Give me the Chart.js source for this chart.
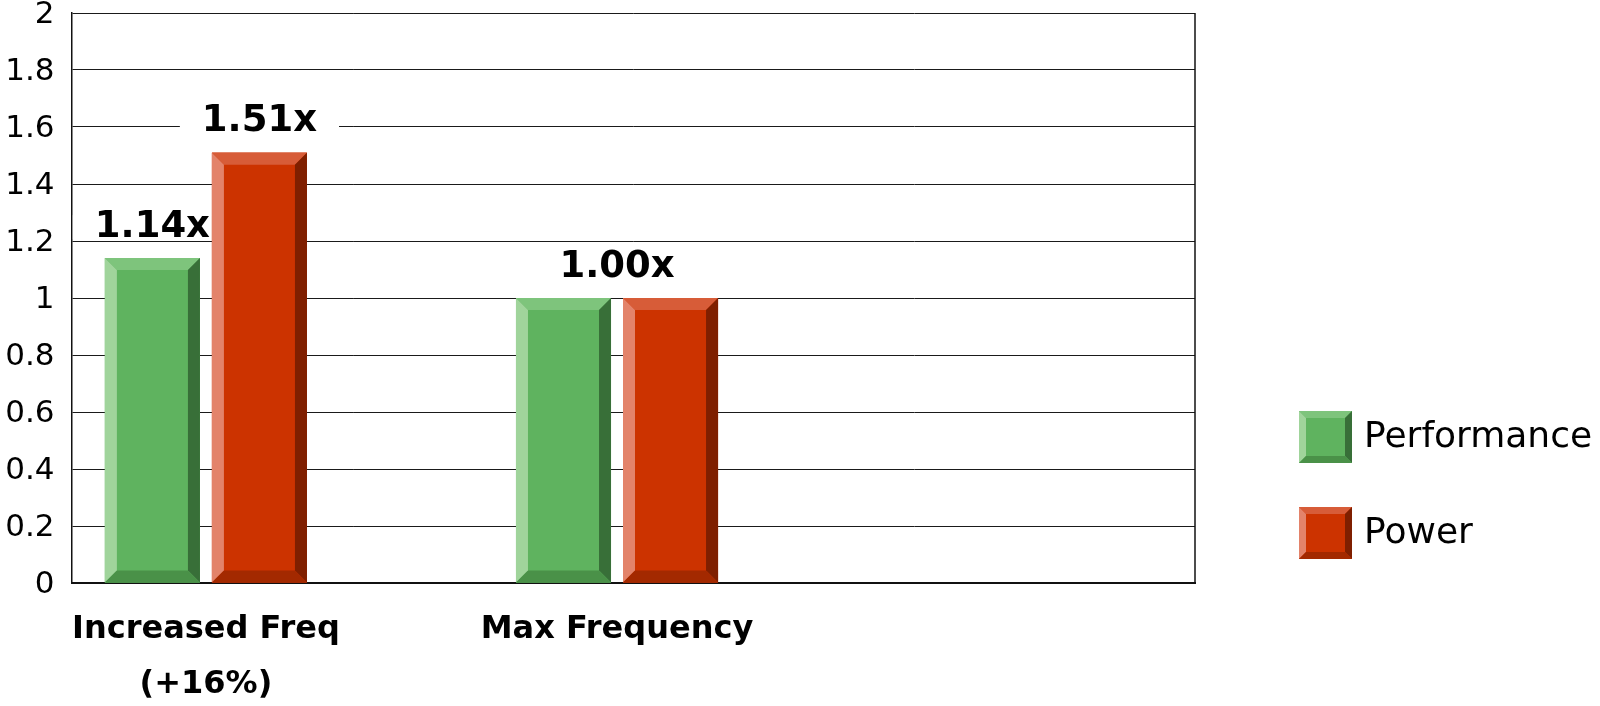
<!DOCTYPE html>
<html>
<head>
<meta charset="utf-8">
<script src="https://cdn.jsdelivr.net/npm/chart.js@4.4.1/dist/chart.umd.min.js"></script>
<style>
  html, body { margin: 0; padding: 0; background: #ffffff; }
  #wrap { width: 1600px; height: 706px; position: relative; }
</style>
</head>
<body>
<div id="wrap"><canvas id="chart"></canvas></div>
<script>
// ---- data ----
const categories = ['Increased Freq (+16%)', 'Max Frequency'];
const categoryTickLabels = [['Increased Freq', '(+16%)'], ['Max Frequency']];
const seriesNames = ['Performance', 'Power'];
const performanceValues = [1.14, 1.00];
const powerValues = [1.51, 1.00];
const yTickLabels = ['0', '0.2', '0.4', '0.6', '0.8', '1', '1.2', '1.4', '1.6', '1.8', '2'];

// ---- styling ----
const FONT = '"DejaVu Sans", Verdana, sans-serif';
const shades = {
  Performance: { face: '#5FB35F', top: '#7EC47C', left: '#A0D49B', right: '#386F38', bottom: '#4A9148' },
  Power:       { face: '#CC3300', top: '#D75C38', left: '#E3836A', right: '#7F1F00', bottom: '#A32900' }
};

function drawBevel(ctx, l, t, r, b, s, c) {
  const poly = (pts, color) => {
    ctx.beginPath();
    ctx.moveTo(pts[0][0], pts[0][1]);
    for (let i = 1; i < pts.length; i++) ctx.lineTo(pts[i][0], pts[i][1]);
    ctx.closePath();
    ctx.fillStyle = color;
    ctx.fill();
  };
  ctx.fillStyle = c.face;
  ctx.fillRect(l, t, r - l, b - t);
  poly([[l, t], [r, t], [r - s, t + s], [l + s, t + s]], c.top);
  poly([[l, t], [l + s, t + s], [l + s, b - s], [l, b]], c.left);
  poly([[r, t], [r, b], [r - s, b - s], [r - s, t + s]], c.right);
  poly([[l, b], [l + s, b - s], [r - s, b - s], [r, b]], c.bottom);
}

const barDecor = {
  id: 'barDecor',
  beforeDatasetsDraw(chart) {
    const { ctx, chartArea } = chart;
    ctx.save();
    // right edge of the plot frame
    ctx.strokeStyle = '#111';
    ctx.lineWidth = 1.5;
    ctx.beginPath();
    ctx.moveTo(chartArea.right, chartArea.top);
    ctx.lineTo(chartArea.right, chartArea.bottom);
    ctx.stroke();

    // value labels above each group
    ctx.font = 'bold 37px ' + FONT;
    ctx.textAlign = 'center';
    ctx.textBaseline = 'middle';
    const metas = chart.data.datasets.map((d, i) => chart.getDatasetMeta(i));
    const drawLabel = (value, cx, topY) => {
      const text = value.toFixed(2) + 'x';
      const w = ctx.measureText(text).width;
      const cy = topY - 31;
      ctx.fillStyle = '#ffffff';
      ctx.fillRect(cx - w / 2 - 22, cy - 12, w + 44, 24);
      ctx.fillStyle = '#000000';
      ctx.fillText(text, cx, cy);
    };
    categories.forEach((cat, i) => {
      const vals = chart.data.datasets.map(d => d.data[i].y);
      const bars = metas.map(m => m.data[i]);
      if (vals.every(v => v === vals[0])) {
        const cx = bars.reduce((s, b) => s + b.x, 0) / bars.length;
        drawLabel(vals[0], cx, Math.min(...bars.map(b => b.y)));
      } else {
        vals.forEach((v, k) => drawLabel(v, bars[k].x, bars[k].y));
      }
    });
    ctx.restore();
  },
  afterDatasetsDraw(chart) {
    const { ctx } = chart;
    ctx.save();
    chart.data.datasets.forEach((ds, i) => {
      const meta = chart.getDatasetMeta(i);
      meta.data.forEach(bar => {
        const l = bar.x - bar.width / 2, r = bar.x + bar.width / 2;
        drawBevel(ctx, l, bar.y, r, bar.base, 12, shades[ds.label]);
      });
    });
    ctx.restore();
  },
  afterDraw(chart) {
    // legend with bevelled swatches
    const { ctx, chartArea } = chart;
    ctx.save();
    const x0 = chartArea.right + 104;
    const y0 = 411;
    ctx.font = '36px ' + FONT;
    ctx.textAlign = 'left';
    ctx.textBaseline = 'middle';
    chart.data.datasets.forEach((ds, i) => {
      const top = y0 + i * 96;
      drawBevel(ctx, x0, top, x0 + 53, top + 52, 7, shades[ds.label]);
      ctx.fillStyle = '#000000';
      ctx.fillText(ds.label, x0 + 65, top + 27);
    });
    ctx.restore();
  }
};

const seriesValues = [performanceValues, powerValues];
const datasets = seriesNames.map((name, s) => ({
  label: name,
  data: categories.map((c, i) => ({ x: i, y: seriesValues[s][i] })),
  backgroundColor: shades[name].face,
  borderWidth: 0,
  categoryPercentage: 0.5207,
  barPercentage: 0.888
}));

new Chart(document.getElementById('chart'), {
  type: 'bar',
  data: { datasets },
  plugins: [barDecor],
  options: {
    responsive: true,
    maintainAspectRatio: false,
    animation: false,
    layout: { padding: { top: 13, right: 405, left: 0, bottom: 0 } },
    plugins: { legend: { display: false }, tooltip: { enabled: false } },
    scales: {
      x: {
        type: 'linear',
        offset: false,
        min: -0.327,
        max: 2.406,
        afterBuildTicks(axis) { axis.ticks = categories.map((c, i) => ({ value: i })); },
        afterFit(axis) { axis.height = 123; axis.paddingLeft = 0; axis.paddingRight = 0; },
        grid: { display: false, drawTicks: false, offset: false },
        border: { display: true, color: '#111', width: 2 },
        ticks: {
          autoSkip: false,
          maxRotation: 0,
          padding: 19,
          color: '#000',
          font: { family: FONT, size: 32, weight: 'bold', lineHeight: 1.72 },
          callback: (value) => categoryTickLabels[value]
        }
      },
      y: {
        min: 0,
        max: 2,
        afterFit(axis) { axis.width = 71.5; axis.paddingTop = 0; axis.paddingBottom = 0; },
        grid: { color: '#1a1a1a', lineWidth: 1, drawTicks: false },
        border: { display: true, color: '#111', width: 1.5 },
        ticks: {
          stepSize: 0.2,
          padding: 17,
          labelOffset: 2,
          color: '#000',
          font: { family: FONT, size: 31, lineHeight: 0.8 },
          callback: (value, index) => yTickLabels[index]
        }
      }
    }
  }
});
</script>
</body>
</html>
